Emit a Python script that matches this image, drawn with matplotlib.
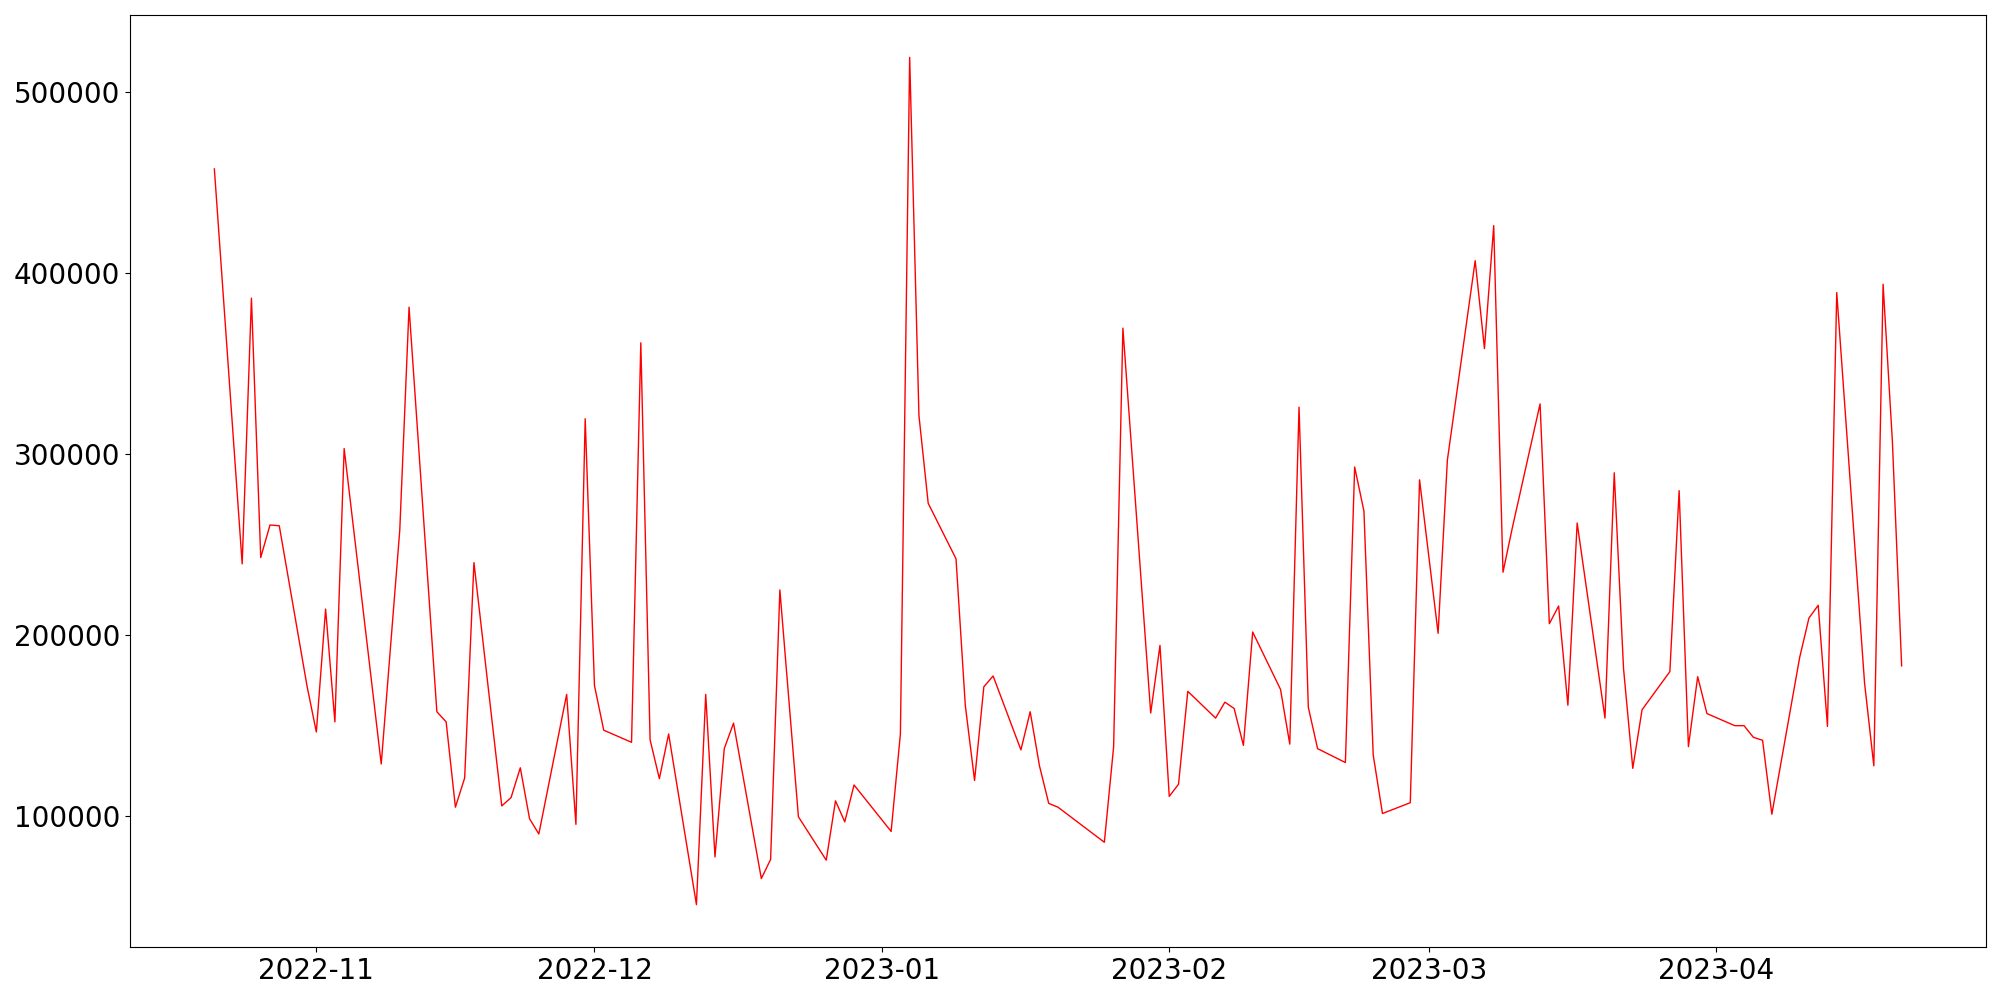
import matplotlib
matplotlib.use("Agg")
import matplotlib.pyplot as plt
import matplotlib.dates as mdates
import pandas as pd

# daily values (missing days simply absent)
dates = [
    "2022-10-21", "2022-10-24", "2022-10-25", "2022-10-26", "2022-10-27", "2022-10-28",
    "2022-10-31", "2022-11-01", "2022-11-02", "2022-11-03", "2022-11-04", "2022-11-08",
    "2022-11-10", "2022-11-11", "2022-11-14", "2022-11-15", "2022-11-16", "2022-11-17",
    "2022-11-18", "2022-11-21", "2022-11-22", "2022-11-23", "2022-11-24", "2022-11-25",
    "2022-11-28", "2022-11-29", "2022-11-30", "2022-12-01", "2022-12-02", "2022-12-05",
    "2022-12-06", "2022-12-07", "2022-12-08", "2022-12-09", "2022-12-12", "2022-12-13",
    "2022-12-14", "2022-12-15", "2022-12-16", "2022-12-19", "2022-12-20", "2022-12-21",
    "2022-12-23", "2022-12-26", "2022-12-27", "2022-12-28", "2022-12-29", "2023-01-02",
    "2023-01-03", "2023-01-04", "2023-01-05", "2023-01-06", "2023-01-09", "2023-01-10",
    "2023-01-11", "2023-01-12", "2023-01-13", "2023-01-16", "2023-01-17", "2023-01-18",
    "2023-01-19", "2023-01-20", "2023-01-25", "2023-01-26", "2023-01-27", "2023-01-30",
    "2023-01-31", "2023-02-01", "2023-02-02", "2023-02-03", "2023-02-06", "2023-02-07",
    "2023-02-08", "2023-02-09", "2023-02-10", "2023-02-13", "2023-02-14", "2023-02-15",
    "2023-02-16", "2023-02-17", "2023-02-20", "2023-02-21", "2023-02-22", "2023-02-23",
    "2023-02-24", "2023-02-27", "2023-02-28", "2023-03-02", "2023-03-03", "2023-03-06",
    "2023-03-07", "2023-03-08", "2023-03-09", "2023-03-10", "2023-03-13", "2023-03-14",
    "2023-03-15", "2023-03-16", "2023-03-17", "2023-03-20", "2023-03-21", "2023-03-22",
    "2023-03-23", "2023-03-24", "2023-03-27", "2023-03-28", "2023-03-29", "2023-03-30",
    "2023-03-31", "2023-04-03", "2023-04-04", "2023-04-05", "2023-04-06", "2023-04-07",
    "2023-04-10", "2023-04-11", "2023-04-12", "2023-04-13", "2023-04-14", "2023-04-17",
    "2023-04-18", "2023-04-19", "2023-04-20", "2023-04-21",
]
values = [
    457700, 239200, 386200, 242700, 260700, 260300,
    171500, 146200, 214200, 151800, 303000, 128500,
    257900, 381200, 157400, 151800, 104600, 120800,
    239900, 105300, 109900, 126400, 98200, 89800,
    167000, 95100, 319500, 171900, 147200, 140500,
    361500, 141900, 120400, 145100, 50700, 167000,
    77100, 137000, 151100, 65100, 75700, 224800,
    99300, 75300, 108100, 96500, 116900, 91200,
    145100, 519400, 321300, 272700, 242000, 161000,
    119400, 171200, 177200, 136300, 157400, 127500,
    106700, 104600, 85200, 138000, 369600, 156700,
    194100, 110600, 117300, 168700, 153900, 162700,
    159200, 138800, 201500, 169800, 139500, 325900,
    159900, 137000, 129300, 292800, 268400, 133500,
    101100, 107100, 285700, 200800, 296600, 406900,
    358300, 426300, 234600, 259000, 327700, 206100,
    215900, 161000, 261800, 153900, 289600, 181400,
    126100, 158500, 179600, 279700, 138100, 176800,
    156400, 149700, 149700, 143300, 141600, 100700,
    187400, 209200, 216300, 149300, 389300, 173300,
    127500, 393900, 307200, 182800,
]

x = pd.to_datetime(dates)

fig, ax = plt.subplots(figsize=(20, 10), dpi=100)
fig.subplots_adjust(left=0.065, right=0.993, bottom=0.053, top=0.985)

ax.plot(x, values, color="red", linewidth=1.0)

ax.xaxis.set_major_locator(mdates.MonthLocator())
ax.xaxis.set_major_formatter(mdates.DateFormatter("%Y-%m"))
ax.tick_params(axis="both", labelsize=20)

fig.savefig("out.png", dpi=100)
